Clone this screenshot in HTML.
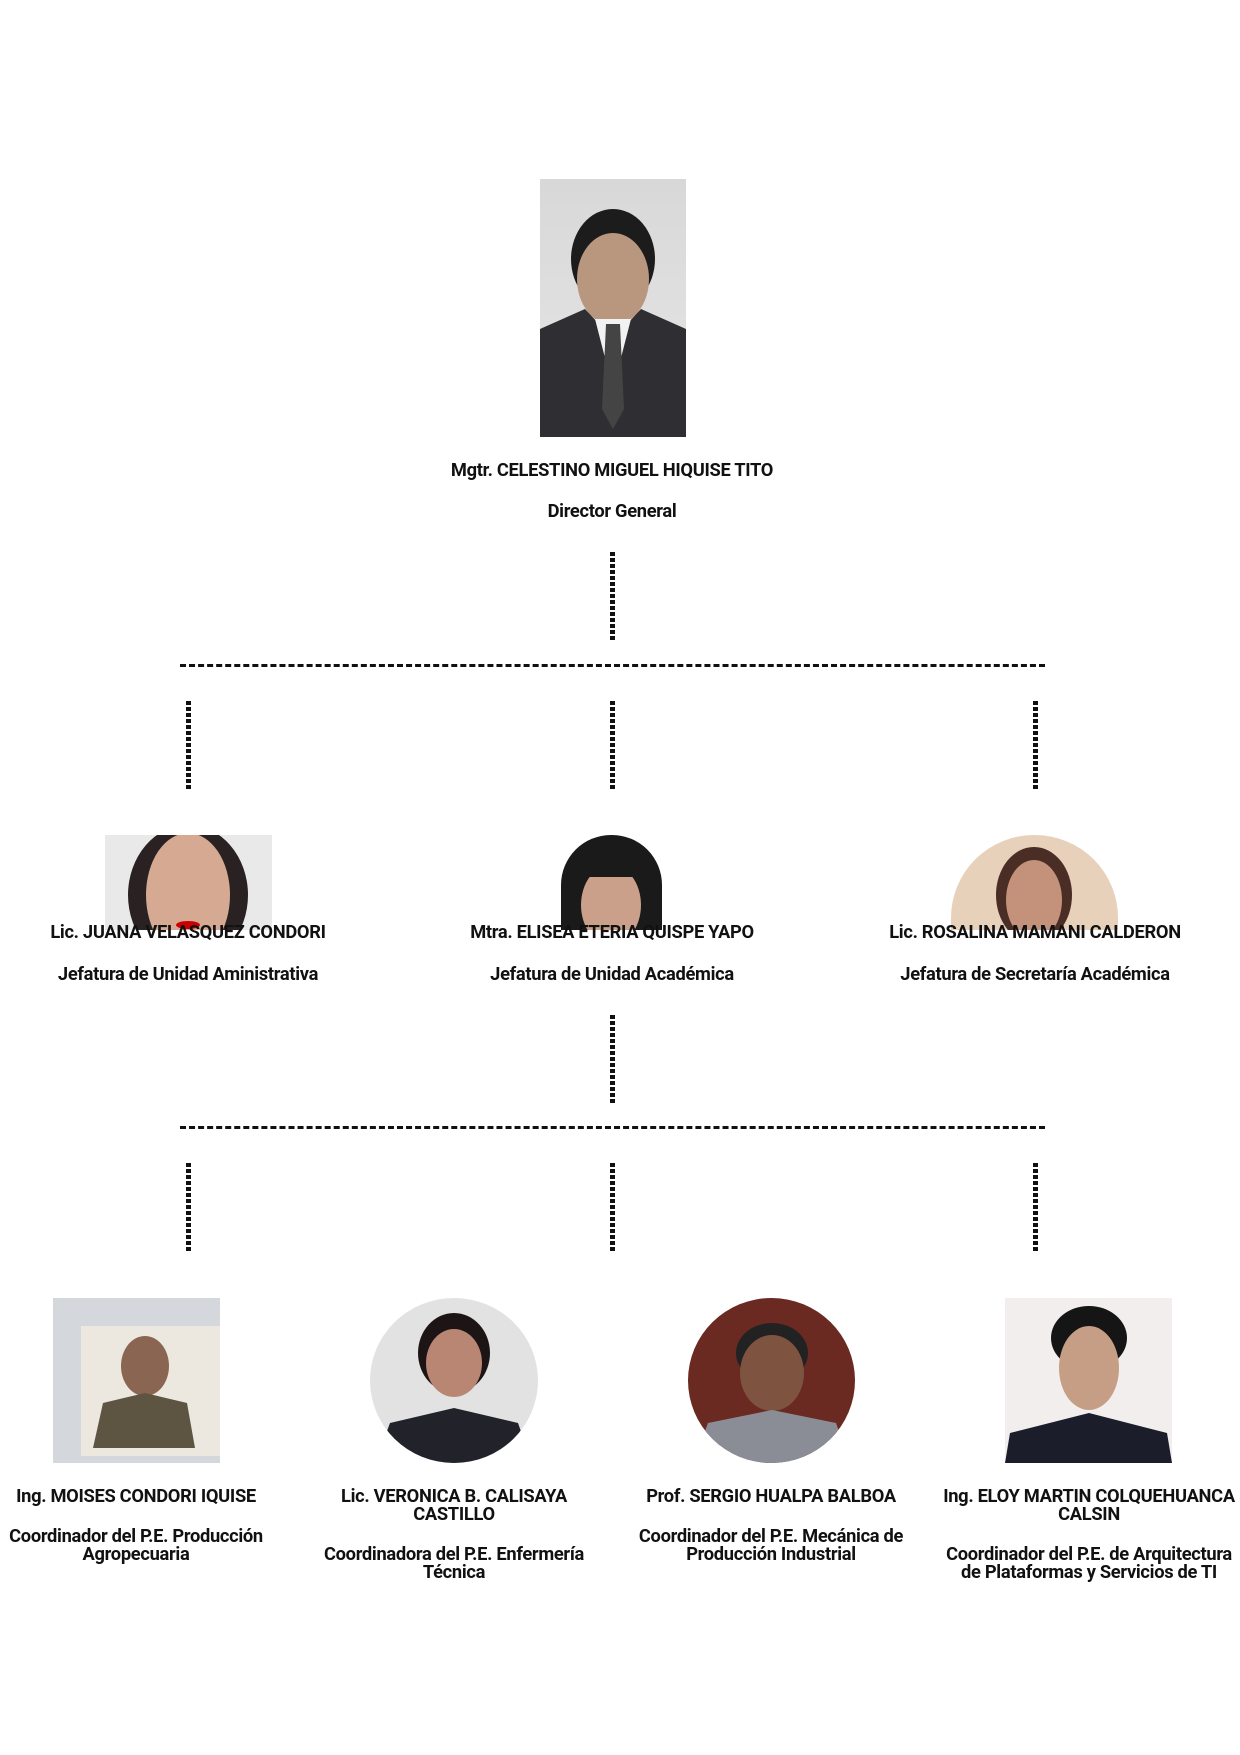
<!DOCTYPE html>
<html><head><meta charset="utf-8"><style>
body{margin:0;background:#fff;}
#c{position:relative;width:1240px;height:1755px;overflow:hidden;font-family:"Roboto","Liberation Sans",sans-serif;font-weight:bold;color:#111;}
.t{position:absolute;text-align:center;font-size:18.3px;line-height:17.5px;white-space:nowrap;transform:translateX(-50%);letter-spacing:-0.3px;}
.v{position:absolute;width:5px;background:repeating-linear-gradient(#111 0 4px,transparent 4px 6px);}
.h{position:absolute;height:0;border-top:3px dashed #111;}
.p{position:absolute;overflow:hidden;}
</style></head><body><div id="c">

<div class="p" style="left:540px;top:179px;width:146px;height:258px;background:linear-gradient(#d8d8d8,#e6e6e6);">
<svg width="146" height="258"><ellipse cx="73" cy="80" rx="42" ry="50" fill="#1c1c1c"/><ellipse cx="73" cy="100" rx="36" ry="46" fill="#b9977f"/><path d="M0 258 L0 150 L45 130 L73 160 L101 130 L146 150 L146 258Z" fill="#2f2f33"/><path d="M55 140 L73 210 L91 140Z" fill="#f2f2f2"/><path d="M66 145 L80 145 L84 230 L73 250 L62 230Z" fill="#444"/></svg></div>
<div class="t" style="left:612px;top:462px;">Mgtr. CELESTINO MIGUEL HIQUISE TITO</div>
<div class="t" style="left:612px;top:503px;">Director General</div>

<div class="v" style="left:610px;top:552px;height:89px;"></div>
<div class="h" style="left:180px;top:664px;width:865px;"></div>
<div class="v" style="left:186px;top:701px;height:88px;"></div>
<div class="v" style="left:610px;top:701px;height:88px;"></div>
<div class="v" style="left:1033px;top:701px;height:88px;"></div>

<div class="p" style="left:105px;top:835px;width:167px;height:95px;background:#e9e9e9;">
<svg width="167" height="95"><ellipse cx="83" cy="60" rx="60" ry="70" fill="#2a2222"/><ellipse cx="83" cy="60" rx="42" ry="62" fill="#d6a993"/><ellipse cx="83" cy="90" rx="12" ry="4" fill="#c00"/></svg></div>
<div class="p" style="left:561px;top:835px;width:101px;height:95px;border-radius:50px 50px 0 0;background:#1a1a1a;">
<svg width="101" height="95"><ellipse cx="50" cy="70" rx="30" ry="40" fill="#caa08a"/><rect x="22" y="20" width="56" height="22" fill="#1a1a1a"/></svg></div>
<div class="p" style="left:951px;top:835px;width:167px;height:95px;border-radius:83px 83px 0 0;background:#e7d1bb;">
<svg width="167" height="95"><ellipse cx="83" cy="60" rx="38" ry="48" fill="#4a2d25"/><ellipse cx="83" cy="65" rx="28" ry="40" fill="#c4927a"/></svg></div>

<div class="t" style="left:188px;top:924px;">Lic. JUANA VELASQUEZ CONDORI</div>
<div class="t" style="left:612px;top:924px;">Mtra. ELISEA ETERIA QUISPE YAPO</div>
<div class="t" style="left:1035px;top:924px;">Lic. ROSALINA MAMANI CALDERON</div>
<div class="t" style="left:188px;top:966px;">Jefatura de Unidad Aministrativa</div>
<div class="t" style="left:612px;top:966px;">Jefatura de Unidad Académica</div>
<div class="t" style="left:1035px;top:966px;">Jefatura de Secretaría Académica</div>

<div class="v" style="left:610px;top:1015px;height:88px;"></div>
<div class="h" style="left:180px;top:1126px;width:865px;"></div>
<div class="v" style="left:186px;top:1163px;height:88px;"></div>
<div class="v" style="left:610px;top:1163px;height:88px;"></div>
<div class="v" style="left:1033px;top:1163px;height:88px;"></div>

<div class="p" style="left:53px;top:1298px;width:167px;height:165px;background:#d4d8dc;">
<svg width="167" height="165"><rect x="28" y="28" width="140" height="130" fill="#ece8e0"/><ellipse cx="92" cy="68" rx="24" ry="30" fill="#8a6652"/><path d="M40 150 L50 105 L92 95 L134 105 L142 150Z" fill="#5d5442"/></svg></div>
<div class="p" style="left:370px;top:1298px;width:168px;height:165px;border-radius:50%;background:#e2e2e2;">
<svg width="168" height="165"><ellipse cx="84" cy="55" rx="36" ry="40" fill="#1d1515"/><ellipse cx="84" cy="65" rx="28" ry="34" fill="#b88672"/><path d="M5 165 L20 125 L84 110 L148 125 L162 165Z" fill="#22222a"/></svg></div>
<div class="p" style="left:688px;top:1298px;width:167px;height:165px;border-radius:50%;background:#6a2a22;">
<svg width="167" height="165"><ellipse cx="84" cy="55" rx="36" ry="30" fill="#222"/><ellipse cx="84" cy="75" rx="32" ry="38" fill="#7e5340"/><path d="M5 165 L20 125 L84 112 L148 125 L162 165Z" fill="#8a8d95"/></svg></div>
<div class="p" style="left:1005px;top:1298px;width:167px;height:165px;background:#f2eeee;">
<svg width="167" height="165"><ellipse cx="84" cy="40" rx="38" ry="32" fill="#151515"/><ellipse cx="84" cy="70" rx="30" ry="42" fill="#c69e86"/><path d="M0 165 L5 135 L84 115 L162 135 L167 165Z" fill="#1b1e2a"/></svg></div>

<div class="t" style="left:136px;top:1488px;">Ing. MOISES CONDORI IQUISE</div>
<div class="t" style="left:454px;top:1488px;">Lic. VERONICA B. CALISAYA<br>CASTILLO</div>
<div class="t" style="left:771px;top:1488px;">Prof. SERGIO HUALPA BALBOA</div>
<div class="t" style="left:1089px;top:1488px;">Ing. ELOY MARTIN COLQUEHUANCA<br>CALSIN</div>
<div class="t" style="left:136px;top:1528px;">Coordinador del P.E. Producción<br>Agropecuaria</div>
<div class="t" style="left:454px;top:1546px;">Coordinadora del P.E. Enfermería<br>Técnica</div>
<div class="t" style="left:771px;top:1528px;">Coordinador del P.E. Mecánica de<br>Producción Industrial</div>
<div class="t" style="left:1089px;top:1546px;">Coordinador del P.E. de Arquitectura<br>de Plataformas y Servicios de TI</div>

</div></body></html>
